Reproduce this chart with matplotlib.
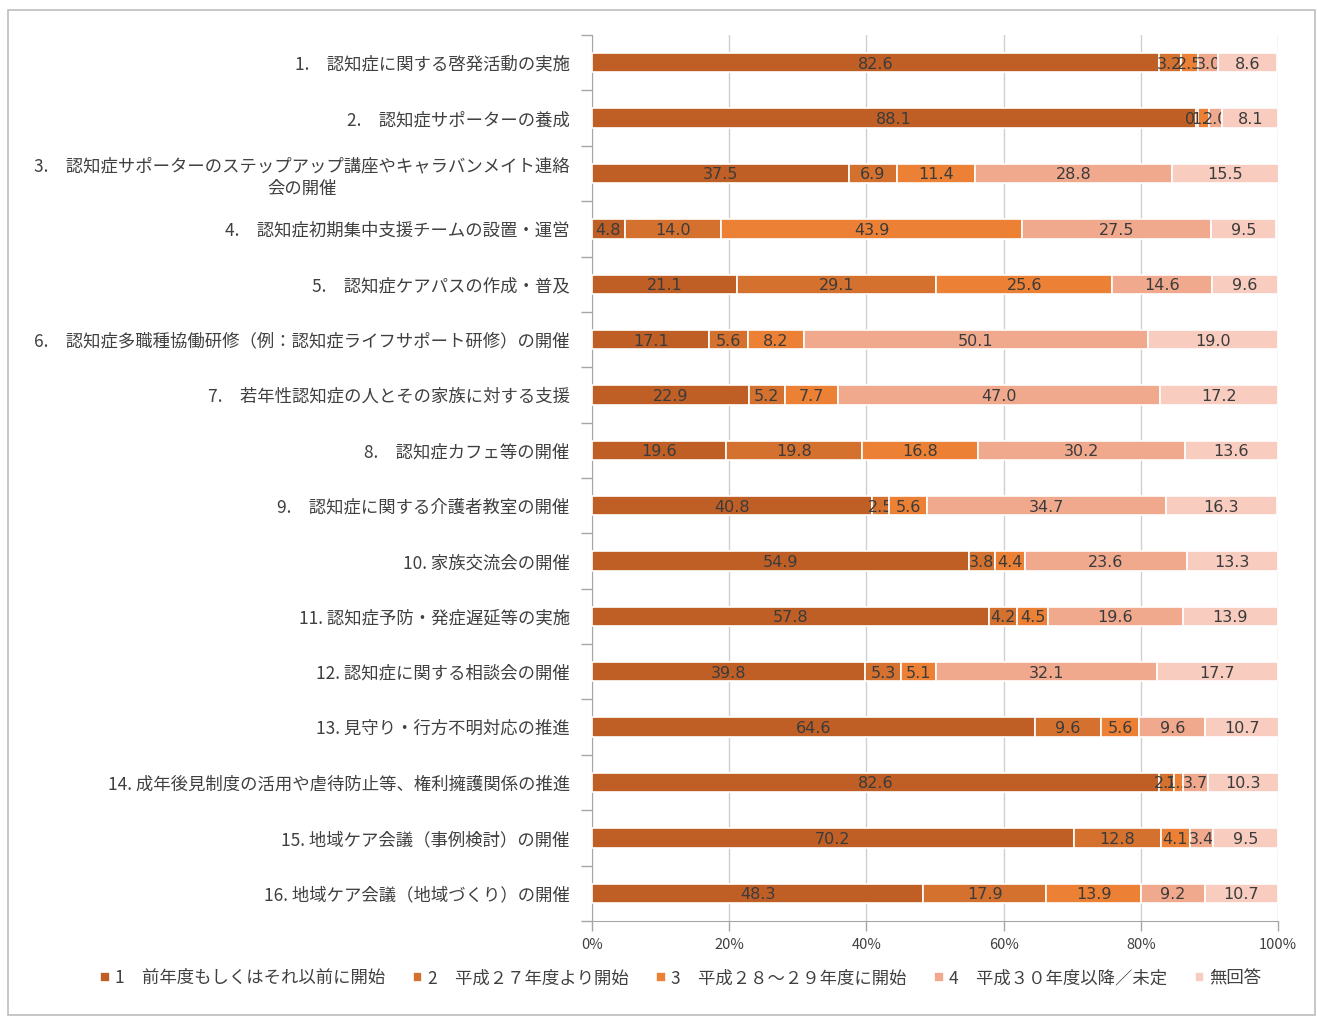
import matplotlib
matplotlib.use("Agg")
import matplotlib.pyplot as plt
import numpy as np
from matplotlib.patches import Rectangle
from matplotlib.ticker import FixedLocator, PercentFormatter

plt.rcParams['font.family'] = ['Noto Sans CJK JP', 'DejaVu Sans']

# items of the survey, top to bottom
categories = [
    "1.　認知症に関する啓発活動の実施",
    "2.　認知症サポーターの養成",
    "3.　認知症サポーターのステップアップ講座やキャラバンメイト連絡\n会の開催",
    "4.　認知症初期集中支援チームの設置・運営",
    "5.　認知症ケアパスの作成・普及",
    "6.　認知症多職種協働研修（例：認知症ライフサポート研修）の開催",
    "7.　若年性認知症の人とその家族に対する支援",
    "8.　認知症カフェ等の開催",
    "9.　認知症に関する介護者教室の開催",
    "10. 家族交流会の開催",
    "11. 認知症予防・発症遅延等の実施",
    "12. 認知症に関する相談会の開催",
    "13. 見守り・行方不明対応の推進",
    "14. 成年後見制度の活用や虐待防止等、権利擁護関係の推進",
    "15. 地域ケア会議（事例検討）の開催",
    "16. 地域ケア会議（地域づくり）の開催",
]

series_names = [
    "1　前年度もしくはそれ以前に開始",
    "2　平成２７年度より開始",
    "3　平成２８～２９年度に開始",
    "4　平成３０年度以降／未定",
    "無回答",
]

started_before = [82.6, 88.1, 37.5, 4.8, 21.1, 17.1, 22.9, 19.6, 40.8, 54.9, 57.8, 39.8, 64.6, 82.6, 70.2, 48.3]
started_h27 = [3.2, 0.3, 6.9, 14.0, 29.1, 5.6, 5.2, 19.8, 2.5, 3.8, 4.2, 5.3, 9.6, 2.2, 12.8, 17.9]
started_h28_29 = [2.5, 1.5, 11.4, 43.9, 25.6, 8.2, 7.7, 16.8, 5.6, 4.4, 4.5, 5.1, 5.6, 1.3, 4.1, 13.9]
h30_or_undecided = [3.0, 2.0, 28.8, 27.5, 14.6, 50.1, 47.0, 30.2, 34.7, 23.6, 19.6, 32.1, 9.6, 3.7, 3.4, 9.2]
no_answer = [8.6, 8.1, 15.5, 9.5, 9.6, 19.0, 17.2, 13.6, 16.3, 13.3, 13.9, 17.7, 10.7, 10.3, 9.5, 10.7]

colors = ['#BF5F26', '#D4712F', '#EC8034', '#F1A98E', '#F8CCBE']


def main():
    fig = plt.figure(figsize=(13.17, 10.17), dpi=100)
    ax = fig.add_axes([0.4495, 0.0945, 0.5209, 0.871])

    series = [started_before, started_h27, started_h28_29, h30_or_undecided, no_answer]
    y = np.arange(len(categories))
    left = np.zeros(len(categories))
    for name, vals, col in zip(series_names, series, colors):
        vals = np.array(vals)
        bars = ax.barh(y, vals, left=left, height=0.35, color=col,
                       edgecolor='white', linewidth=1.2, label=name, zorder=3)
        texts = ax.bar_label(bars, labels=['%.1f' % v for v in vals],
                             label_type='center', fontsize=11.5, color='#3b3b3b',
                             family=['Liberation Sans Narrow', 'DejaVu Sans'])
        for t in texts:
            t.set_va('center_baseline')
        left += vals

    ax.set_xlim(0, 100)
    ax.set_ylim(len(categories) - 0.5, -0.5)
    ax.set_xticks(np.arange(0, 101, 20))
    ax.xaxis.set_major_formatter(PercentFormatter(decimals=0))
    ax.tick_params(axis='x', length=7, width=1, color='#A6A6A6',
                   labelsize=10.5, labelcolor='#404040', pad=5)
    ax.grid(axis='x', color='#D0D0D0', linewidth=1, zorder=0)

    ax.set_yticks(y)
    ax.set_yticklabels(categories, fontsize=12.5, color='#404040',
                       multialignment='center', linespacing=1.35)
    ax.tick_params(axis='y', length=0, pad=16)
    ax.yaxis.set_minor_locator(FixedLocator(np.arange(-0.5, len(categories), 1.0)))
    ax.tick_params(axis='y', which='minor', length=8, width=1, color='#A6A6A6')

    for side in ('top', 'right'):
        ax.spines[side].set_visible(False)
    for side in ('left', 'bottom'):
        ax.spines[side].set_color('#A6A6A6')

    handles, labels = ax.get_legend_handles_labels()
    fig.legend(handles, labels, loc='center', bbox_to_anchor=(0.517, 0.038),
               ncol=5, frameon=False, fontsize=12.5, labelcolor='#404040',
               handlelength=0.55, handleheight=0.55, handletextpad=0.3,
               columnspacing=1.6)

    fig.patches.append(Rectangle((7.5 / 1317, 1 - 1015 / 1017),
                                 (1315 - 7.5) / 1317, (1015 - 10) / 1017,
                                 transform=fig.transFigure, fill=False,
                                 edgecolor='#BDBDBD', linewidth=1.2))

    fig.savefig('out.png', dpi=100, facecolor='white')


main()
